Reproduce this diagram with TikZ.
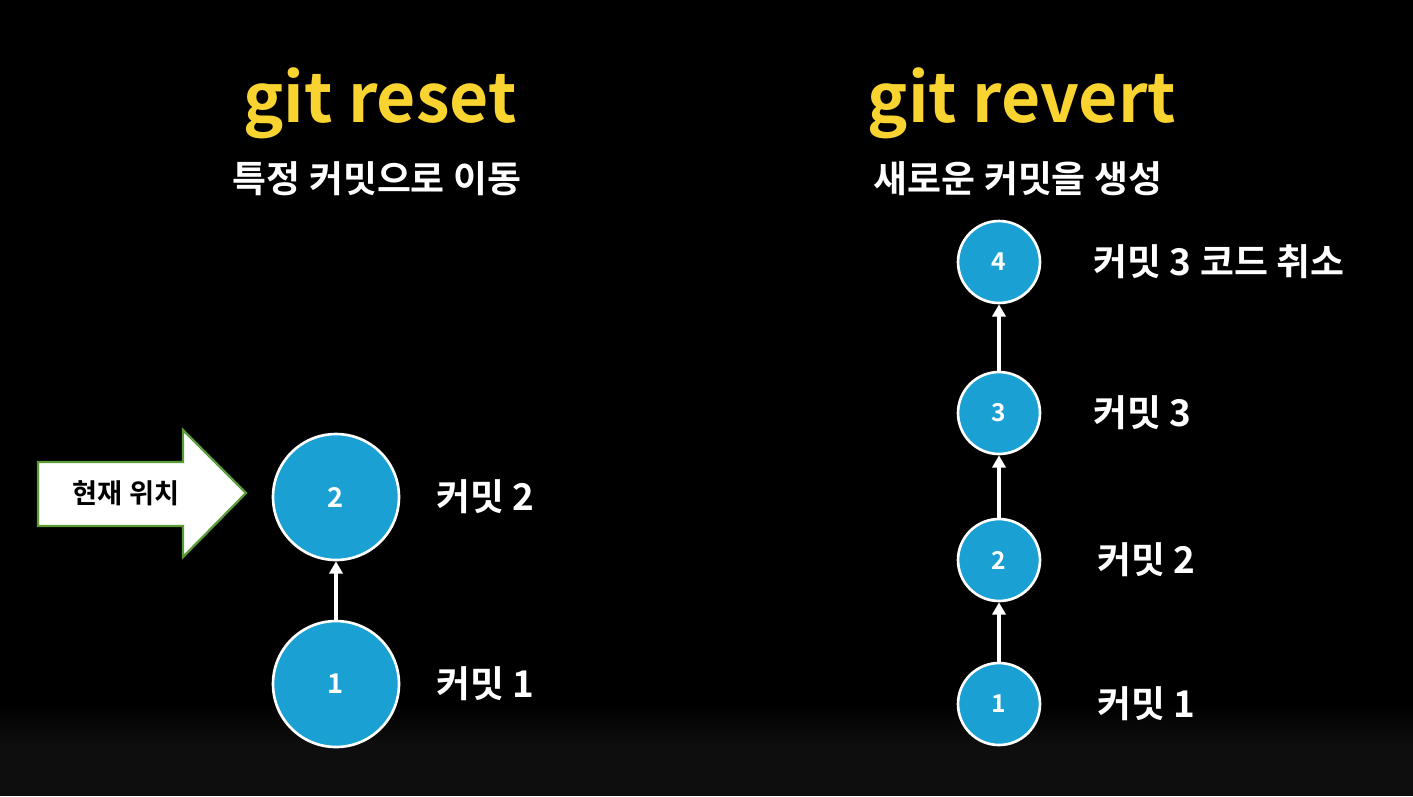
\documentclass[tikz,border=0pt]{standalone}
\usepackage{fontspec}
\setmainfont{Noto Sans CJK KR}[BoldFont={* Bold}]
\usetikzlibrary{arrows.meta,positioning}
\definecolor{SlideInk}{HTML}{000000}
\definecolor{SlideTitle}{HTML}{F9D330}
\definecolor{CommitBlue}{HTML}{1AA0D2}
\definecolor{MarkGreen}{HTML}{5B9B3A}
\definecolor{FloorGray}{HTML}{0E0E0E}
\tikzset{
  every node/.style={font=\bfseries, text=white},
  title/.style={font=\fontsize{38.5}{40}\selectfont\bfseries, text=SlideTitle, anchor=base},
  subtitle/.style={font=\fontsize{21}{22}\selectfont\bfseries, anchor=base},
  commit/.style={circle, draw=white, line width=1.5pt, fill=CommitBlue, inner sep=0pt},
  bigcommit/.style={commit, minimum size=2.52cm, font=\fontsize{15.5}{16}\selectfont\bfseries},
  smallcommit/.style={commit, minimum size=1.64cm, font=\fontsize{14}{14}\selectfont\bfseries},
  note/.style={font=\fontsize{21}{22}\selectfont\bfseries, anchor=west, inner sep=0pt},
  parent/.style={-{Triangle[length=7pt,width=7.5pt]}, draw=white, line width=2pt},
  pointer/.style={draw=MarkGreen, line width=1.3pt, fill=white, line join=miter},
}

\begin{document}
\begin{tikzpicture}[x=0.02cm,y=-0.02cm]
  \useasboundingbox (0,0) rectangle (1413,796);
  \fill[SlideInk] (0,0) rectangle (1413,796);
  \shade[top color=SlideInk, bottom color=FloorGray] (0,705) rectangle (1413,745);
  \fill[FloorGray] (0,745) rectangle (1413,796);

  % Panel reset
  \node[title] (resetTitle) at (380,122) {git reset};
  \node[subtitle] (resetSub) at (377,192) {특정 커밋으로 이동};
  \node[bigcommit] (r2) at (336,497) {2};
  \node[bigcommit] (r1) at (336,684) {1};
  \draw[parent] (r1) -- (r2);
  \node[note, right=0.72cm of r2] (r2note) {커밋 2};
  \node[note, right=0.72cm of r1] (r1note) {커밋 1};
  \draw[pointer] (38,462) -- (183,462) -- (183,430) -- (246,493) -- (183,557)
    -- (183,526) -- (38,526) -- cycle;
  \node[font=\fontsize{15.5}{16}\selectfont\bfseries, text=black] (here) at (126,493) {현재 위치};

  % Panel revert
  \node[title] (revertTitle) at (1022,122) {git revert};
  \node[subtitle] (revertSub) at (1018,192) {새로운 커밋을 생성};
  \node[smallcommit] (v4) at (999,262) {4};
  \node[smallcommit] (v3) at (999,413) {3};
  \node[smallcommit] (v2) at (999,560) {2};
  \node[smallcommit] (v1) at (999,704) {1};
  \foreach \a/\b in {v1/v2,v2/v3,v3/v4}
    \draw[parent] (\a) -- (\b);
  \node[note, right=1.04cm of v4] (v4note) {커밋 3 코드 취소};
  \node[note, right=1.04cm of v3] (v3note) {커밋 3};
  \node[note, right=1.12cm of v2] (v2note) {커밋 2};
  \node[note, right=1.12cm of v1] (v1note) {커밋 1};
\end{tikzpicture}
\end{document}
